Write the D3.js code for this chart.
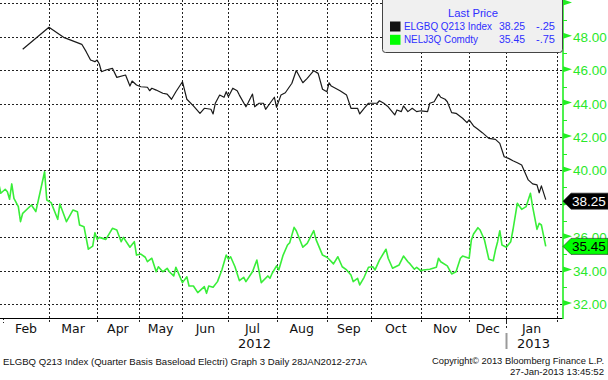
<!DOCTYPE html>
<html><head><meta charset="utf-8">
<script src="https://cdn.jsdelivr.net/npm/d3@7"></script>
<style>body{margin:0;background:#fff}svg{display:block}</style>
</head><body>
<svg id="c" width="608" height="380"></svg>
<script>
// ---------- data ----------
const monthLabels = ["Feb","Mar","Apr","May","Jun","Jul","Aug","Sep","Oct","Nov","Dec","Jan"];
// trading-day index where each month starts (last entry = start of Feb 2013)
const monthBounds = [2,23,45,64,84,105,127,150,170,193,215,232,255];
const yearLabels = ["2012","2013"];
const yearMonthIndex = [5, 11];   // Jul 2012, Jan 2013
const yearBoundary = 232;          // 1 Jan 2013
const yMajorTicks = [32,34,36,38,40,42,44,46,48,50];
const yMinorTicks = [33,35,37,39,41,43,45,47,49];
const seriesNames = ["ELGBQ Q213 Index","NELJ3Q Comdty"];
const lastPrices = ["38.25","35.45"];
const netChanges = ["-.25","-.75"];

const elgbqDays = [11,23,30,38,40,42,44,45,46,47,49,52,54,58,60,61,63,65,68,69,70,72,75,77,79,81,84,86,89,92,94,97,98,99,101,103,104,105,107,109,110,113,114,116,117,119,121,122,124,126,127,129,131,134,136,139,141,144,146,148,150,151,152,156,159,161,164,165,167,169,173,174,176,178,181,182,184,185,187,189,191,193,196,197,199,201,202,204,205,207,209,212,214,215,217,219,221,224,227,229,231,233,235,237,239,241,242,244,246,247,248,250];
const elgbqValues = [47.25,48.57,47.95,47.55,47.11,46.61,46.51,46.61,46.37,45.91,46.01,46.11,45.57,45.71,45.05,45.35,45.11,45.01,44.98,44.77,44.92,44.81,44.62,44.57,44.26,44.71,45.31,44.26,43.86,43.42,43.72,43.66,43.38,44.02,44.51,44.38,44.71,44.41,44.92,44.77,44.51,43.81,44.05,44.57,43.81,44.02,44.02,43.66,44.02,44.38,43.78,44.51,44.65,45.22,45.98,45.25,45.51,45.97,45.81,44.86,44.71,45.25,45.05,44.77,44.51,43.72,43.72,43.38,43.72,44.02,44.02,44.17,44.02,43.81,43.32,43.62,43.52,43.86,43.52,43.72,43.52,43.57,43.52,44.02,44.11,44.57,44.38,44.26,44.11,43.46,43.42,43.12,42.86,43.02,42.66,42.46,42.26,41.92,41.86,41.62,40.82,40.72,40.58,40.46,40.32,39.72,39.43,39.19,39.13,38.66,39.07,38.25];

const neljDays = [0,1,3,4,5,6,7,9,10,11,15,17,19,21,22,24,27,28,31,34,36,37,39,41,43,44,45,46,49,52,54,56,57,60,62,63,65,67,68,70,72,73,75,77,78,80,81,84,86,87,89,91,94,95,96,98,100,102,104,105,106,108,110,112,113,116,118,120,123,124,125,127,128,130,132,133,135,136,139,141,144,145,148,150,151,153,155,157,159,161,162,164,165,167,169,171,172,174,177,178,180,183,185,187,188,190,191,193,194,197,200,201,202,205,207,209,211,212,215,216,217,219,220,222,224,226,227,228,229,230,232,234,235,237,239,241,243,244,246,247,248,250];
const neljValues = [39.23,38.63,38.87,38.72,38.27,39.19,38.33,37.83,36.93,37.43,37.93,37.53,38.72,39.92,38.23,38.07,37.07,37.99,36.93,37.63,37.53,36.73,36.63,35.28,35.47,36.27,35.87,35.99,35.87,36.53,36.43,35.73,35.99,35.40,35.73,34.93,34.99,34.80,34.53,34.74,33.93,34.23,33.93,34.14,33.93,33.68,34.20,33.28,33.63,33.08,33.08,32.68,33.04,32.64,33.08,33.00,33.34,34.04,34.93,34.68,34.83,34.23,33.40,33.60,33.34,33.93,34.63,33.28,33.68,33.54,33.84,34.28,34.04,34.93,35.53,35.67,36.59,36.39,35.40,35.63,36.39,35.87,34.93,34.80,34.68,34.40,34.83,34.23,34.04,33.74,33.34,33.54,33.14,33.60,34.20,34.23,34.04,34.63,35.28,34.74,34.14,34.34,34.87,34.53,34.40,34.08,34.20,33.99,34.04,34.08,34.20,34.74,34.53,34.28,33.80,33.93,34.74,34.87,34.74,35.83,36.19,36.57,36.43,35.83,34.68,34.59,35.23,35.73,36.39,35.53,35.40,35.73,36.43,38.03,37.67,37.83,38.63,37.83,36.47,36.83,36.73,35.45];

const footerLeft = "ELGBQ Q213 Index (Quarter Basis Baseload Electri) Graph 3  Daily 28JAN2012-27JA";
const footerRight1 = "Copyright\u00A9 2013 Bloomberg Finance L.P.";
const footerRight2 = "27-Jan-2013 13:45:52";

// ---------- layout ----------
const plotRight = 563, plotBottom = 318;
const GREEN = "#22ee22", LINEGREEN = "#39ee39", BLUE = "#2f2fff";
const FONT = "'DejaVu Sans', Verdana, sans-serif";
const NUMFONT = "'Liberation Sans', Arial, sans-serif";

const svg = d3.select("#c");
const x = d3.scaleLinear().domain([2, 255]).range([3, 556.7]);
const y = d3.scaleLinear().domain([32, 50]).range([304, 3.4]);

svg.append("rect").attr("width", 608).attr("height", 380).attr("fill", "#fff");

// grid
const grid = svg.append("g").attr("stroke", "#222").attr("stroke-width", 1).attr("stroke-dasharray", "2,2");
grid.selectAll("line.h").data(yMajorTicks).join("line")
  .attr("x1", 0).attr("x2", plotRight)
  .attr("y1", d => Math.round(y(d)) + 0.5).attr("y2", d => Math.round(y(d)) + 0.5);
grid.selectAll("line.v").data(monthBounds.slice(1)).join("line")
  .attr("x1", d => Math.round(x(d)) + 0.5).attr("x2", d => Math.round(x(d)) + 0.5)
  .attr("y1", 0).attr("y2", plotBottom + 5);
grid.append("line").attr("x1", Math.round(x(monthBounds[0])) + 0.5).attr("x2", Math.round(x(monthBounds[0])) + 0.5)
  .attr("y1", plotBottom).attr("y2", plotBottom + 5);
grid.append("line").attr("x1", Math.round(x(yearBoundary)) + 0.5).attr("x2", Math.round(x(yearBoundary)) + 0.5)
  .attr("y1", plotBottom).attr("y2", plotBottom + 12);
svg.append("line").attr("x1", Math.round(x(yearBoundary)) + 0.5).attr("x2", Math.round(x(yearBoundary)) + 0.5)
  .attr("y1", 333).attr("y2", 349).attr("stroke", "#9a9a9a").attr("stroke-width", 2);

// bottom axis
svg.append("line").attr("x1", 0).attr("x2", plotRight).attr("y1", plotBottom + 0.5).attr("y2", plotBottom + 0.5)
  .attr("stroke", "#000").attr("stroke-width", 1);

// month / year labels
svg.append("g").selectAll("text").data(monthLabels).join("text")
  .attr("x", (d, i) => (x(monthBounds[i]) + x(monthBounds[i + 1])) / 2)
  .attr("y", 333).attr("text-anchor", "middle")
  .attr("font-family", FONT).attr("font-size", 12.5).attr("fill", "#111").text(d => d);
svg.append("g").selectAll("text").data(yearLabels).join("text")
  .attr("x", (d, i) => (x(monthBounds[yearMonthIndex[i]]) + x(monthBounds[yearMonthIndex[i] + 1])) / 2 + 2)
  .attr("y", 348).attr("text-anchor", "middle")
  .attr("font-family", FONT).attr("font-size", 13).attr("fill", "#111").text(d => d);

// series lines
svg.append("clipPath").attr("id", "clip").append("rect").attr("x", 0).attr("y", 0).attr("width", plotRight).attr("height", plotBottom);
const line = d3.line().x(d => x(d[0])).y(d => y(d[1]));
const gLines = svg.append("g").attr("clip-path", "url(#clip)");
gLines.append("path").datum(neljDays.map((d, i) => [d, neljValues[i]]))
  .attr("d", line).attr("fill", "none").attr("stroke", LINEGREEN).attr("stroke-width", 1.6).attr("stroke-linejoin", "round");
gLines.append("path").datum(elgbqDays.map((d, i) => [d, elgbqValues[i]]))
  .attr("d", line).attr("fill", "none").attr("stroke", "#1a1a1a").attr("stroke-width", 1.2).attr("stroke-linejoin", "round");

// last-price tag values
const tagValues = [elgbqValues[elgbqValues.length - 1], neljValues[neljValues.length - 1]];
const tagY = tagValues.map((v, i) => y(v) + (i === 0 ? 1.5 : 0));

// right axis
svg.append("line").attr("x1", plotRight).attr("x2", plotRight).attr("y1", 0).attr("y2", plotBottom + 1)
  .attr("stroke", GREEN).attr("stroke-width", 1.6);
svg.append("g").selectAll("path").data(yMajorTicks).join("path")
  .attr("d", d => { const yy = y(d); return `M${plotRight},${yy - 4}L${plotRight + 9},${yy - 1}L${plotRight},${yy + 2}Z`; })
  .attr("fill", GREEN);
svg.append("g").selectAll("line").data(yMinorTicks).join("line")
  .attr("x1", plotRight).attr("x2", plotRight + 4)
  .attr("y1", d => Math.round(y(d)) + 0.5).attr("y2", d => Math.round(y(d)) + 0.5)
  .attr("stroke", GREEN).attr("stroke-width", 1);
// tick labels: skip the top one (cut by frame) and any fully hidden under a last-price tag
const labelTicks = yMajorTicks.filter(d => y(d) > 10 && tagY.every(t => Math.abs(t - y(d)) > 6));
svg.append("g").selectAll("text").data(labelTicks).join("text")
  .attr("x", 573).attr("y", d => y(d) + 5)
  .attr("font-family", NUMFONT).attr("font-size", 13.5).attr("fill", "#2ae82a")
  .text(d => d.toFixed(2));

// last-price tags
const tagFill = ["#000", "#00ff00"], tagText = ["#fff", "#000"];
const tags = svg.append("g").selectAll("g").data(tagValues).join("g")
  .attr("transform", (d, i) => `translate(0,${tagY[i]})`);
tags.append("path").attr("d", `M${plotRight},0L${plotRight + 8},-8L608,-8L608,8L${plotRight + 8},8Z`)
  .attr("fill", (d, i) => tagFill[i]).attr("stroke", "#222").attr("stroke-width", 0.6);
tags.append("text").attr("x", 572).attr("y", 5)
  .attr("font-family", NUMFONT).attr("font-size", 13.5).attr("fill", (d, i) => tagText[i])
  .text((d, i) => lastPrices[i]);

// legend box
const LFONT = NUMFONT;
const lg = svg.append("g");
lg.append("rect").attr("x", 382.5).attr("y", -4.5).attr("width", 180).attr("height", 57).attr("rx", 3)
  .attr("fill", "#f0f0f0").attr("stroke", "#444").attr("stroke-width", 1);
lg.append("text").attr("x", 448).attr("y", 17)
  .attr("font-family", LFONT).attr("font-size", 10.5).attr("fill", BLUE)
  .attr("textLength", 50).attr("lengthAdjust", "spacingAndGlyphs").text("Last Price");
const swatch = ["#111", "#00ff00"];
const nameLen = [88, 74];
seriesNames.forEach((name, i) => {
  const by = 30 + i * 13.3;
  lg.append("rect").attr("x", 390).attr("y", by - 8.5).attr("width", 10.5).attr("height", 10).attr("fill", swatch[i]);
  lg.append("text").attr("x", 404).attr("y", by).attr("font-family", LFONT).attr("font-size", 10).attr("fill", BLUE)
    .attr("textLength", nameLen[i]).attr("lengthAdjust", "spacingAndGlyphs").text(name);
  lg.append("text").attr("x", 499).attr("y", by).attr("font-family", LFONT).attr("font-size", 10).attr("fill", BLUE)
    .attr("textLength", 26).attr("lengthAdjust", "spacingAndGlyphs").text(lastPrices[i]);
  lg.append("text").attr("x", 536).attr("y", by).attr("font-family", LFONT).attr("font-size", 10).attr("fill", BLUE)
    .attr("textLength", 19).attr("lengthAdjust", "spacingAndGlyphs").text(netChanges[i]);
});

// footer
const FFONT = NUMFONT;
svg.append("text").attr("x", 3).attr("y", 365).attr("font-family", FFONT).attr("font-size", 9).attr("fill", "#111")
  .attr("textLength", 364).attr("lengthAdjust", "spacingAndGlyphs").text(footerLeft);
svg.append("text").attr("x", 432).attr("y", 364).attr("font-family", FFONT).attr("font-size", 9).attr("fill", "#111")
  .attr("textLength", 172).attr("lengthAdjust", "spacingAndGlyphs").text(footerRight1);
svg.append("text").attr("x", 510).attr("y", 375).attr("font-family", FFONT).attr("font-size", 9).attr("fill", "#111")
  .attr("textLength", 94).attr("lengthAdjust", "spacingAndGlyphs").text(footerRight2);
</script>
</body></html>
